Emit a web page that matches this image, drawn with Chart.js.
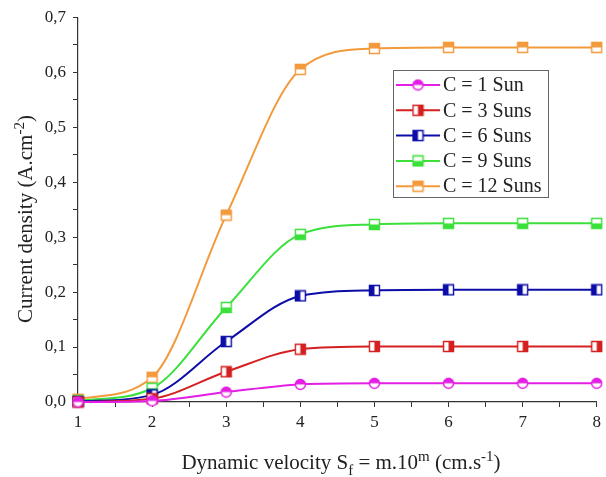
<!DOCTYPE html>
<html>
<head>
<meta charset="utf-8">
<script src="https://cdn.jsdelivr.net/npm/chart.js@4.4.0/dist/chart.umd.min.js"></script>
<style>
  html, body { margin: 0; padding: 0; background: #fff; }
  #wrap { width: 606px; height: 477px; }
</style>
</head>
<body>
<div id="wrap"><canvas id="chart"></canvas></div>
<script>
// values
const velocity = [1, 2, 3, 4, 5, 6, 7, 8];
const sun1  = [0.000, 0.002, 0.018, 0.032, 0.034, 0.034, 0.034, 0.034];
const sun3  = [0.000, 0.006, 0.055, 0.096, 0.101, 0.101, 0.101, 0.101];
const sun6  = [0.001, 0.013, 0.110, 0.193, 0.203, 0.204, 0.204, 0.204];
const sun9  = [0.002, 0.025, 0.172, 0.305, 0.323, 0.325, 0.325, 0.325];
const sun12 = [0.005, 0.045, 0.340, 0.605, 0.643, 0.645, 0.645, 0.645];
const seriesLabels = ['C = 1 Sun', 'C = 3 Suns', 'C = 6 Suns', 'C = 9 Suns', 'C = 12 Suns'];

const FONT = '"Liberation Serif", "Times New Roman", serif';

// half filled markers like in Origin
function makeMarker(shape, color, half) {
  const s = 13;
  const c = document.createElement('canvas');
  c.width = s; c.height = s;
  const g = c.getContext('2d');
  const path = () => {
    g.beginPath();
    if (shape === 'circle') g.arc(s / 2, s / 2, 5, 0, Math.PI * 2);
    else g.rect(1.5, 1.5, s - 3, s - 3);
  };
  path();
  g.fillStyle = '#fff';
  g.fill();
  g.save();
  path();
  g.clip();
  g.fillStyle = color;
  if (half === 'top') g.fillRect(0, 0, s, s / 2);
  if (half === 'bottom') g.fillRect(0, s / 2, s, s / 2);
  if (half === 'left') g.fillRect(0, 0, s / 2, s);
  if (half === 'right') g.fillRect(s / 2, 0, s / 2, s);
  g.restore();
  path();
  g.lineWidth = 1.4;
  g.strokeStyle = color;
  g.stroke();
  return c;
}

const colors = ['#e41ee4', '#d42020', '#0c0ca8', '#3be03b', '#f29a3c'];
const markers = [
  makeMarker('circle', colors[0], 'top'),
  makeMarker('square', colors[1], 'right'),
  makeMarker('square', colors[2], 'left'),
  makeMarker('square', colors[3], 'bottom'),
  makeMarker('square', colors[4], 'top'),
];

const allSeries = [sun1, sun3, sun6, sun9, sun12];
const datasets = allSeries.map((vals, i) => ({
  label: seriesLabels[i],
  data: velocity.map((v, k) => ({ x: v, y: vals[k] })),
  borderColor: colors[i],
  borderWidth: 2,
  pointStyle: markers[i],
  pointRadius: 6,
  cubicInterpolationMode: 'monotone',
  clip: false,
}));

// draws text with sub/superscripts, segments: [text, shiftY, size]
function drawRich(ctx, segs, x, y) {
  let total = 0;
  segs.forEach(([t, dy, size]) => {
    ctx.font = size + 'px ' + FONT;
    total += ctx.measureText(t).width;
  });
  let cx = x - total / 2;
  segs.forEach(([t, dy, size]) => {
    ctx.font = size + 'px ' + FONT;
    ctx.fillText(t, cx, y + dy);
    cx += ctx.measureText(t).width;
  });
}

const overlayPlugin = {
  id: 'overlay',
  afterDatasetsDraw(chart) {
    const ctx = chart.ctx;
    ctx.save();
    ctx.fillStyle = '#222';
    ctx.textBaseline = 'alphabetic';
    ctx.textAlign = 'left';

    // x title
    drawRich(ctx, [
      ['Dynamic velocity S', 0, 21], ['f', 6, 15], [' = m.10', 0, 21],
      ['m', -8, 15], [' (cm.s', 0, 21], ['-1', -8, 15], [')', 0, 21],
    ], 341, 469);

    // y title
    ctx.translate(32, 219);
    ctx.rotate(-Math.PI / 2);
    drawRich(ctx, [
      ['Current density (A.cm', 0, 21], ['-2', -8, 15], [')', 0, 21],
    ], 0, 0);
    ctx.restore();

    // legend box
    ctx.save();
    const bx = 393, by = 70, bw = 155, bh = 127;
    ctx.fillStyle = '#fff';
    ctx.fillRect(bx, by, bw, bh);
    ctx.strokeStyle = '#666';
    ctx.lineWidth = 1;
    ctx.strokeRect(bx + 0.5, by + 0.5, bw, bh);
    ctx.font = '20px ' + FONT;
    ctx.textBaseline = 'middle';
    chart.data.datasets.forEach((ds, i) => {
      const yy = by + 15 + i * 25.3;
      ctx.strokeStyle = ds.borderColor;
      ctx.lineWidth = 2;
      ctx.beginPath();
      ctx.moveTo(bx + 3, yy);
      ctx.lineTo(bx + 47, yy);
      ctx.stroke();
      ctx.drawImage(ds.pointStyle, bx + 25 - 6.5, yy - 6.5);
      ctx.fillStyle = '#222';
      ctx.fillText(ds.label, bx + 50, yy + 1);
    });
    ctx.restore();
  },
};

const isMajor = (v, step) => Math.abs(v / step - Math.round(v / step)) < 1e-6;

new Chart(document.getElementById('chart'), {
  type: 'line',
  data: { datasets },
  options: {
    responsive: true,
    maintainAspectRatio: false,
    animation: false,
    layout: { padding: { left: 0, right: 4, top: 16, bottom: 0 } },
    plugins: {
      legend: { display: false },
      tooltip: { enabled: false },
    },
    scales: {
      x: {
        type: 'linear',
        min: 1,
        max: 8,
        afterFit: (s) => { s.height = 75; },
        border: { display: true, color: '#333', width: 1.2 },
        grid: { drawOnChartArea: false, drawTicks: true, tickLength: 5, tickColor: '#333' },
        ticks: {
          stepSize: 0.5,
          autoSkip: false,
          maxRotation: 0,
          padding: 5,
          color: '#222',
          font: { family: FONT, size: 17 },
          callback: (v) => (isMajor(v, 1) ? String(Math.round(v)) : ''),
        },
      },
      y: {
        min: 0,
        max: 0.7,
        afterFit: (s) => { s.width = 78; },
        border: { display: true, color: '#333', width: 1.2 },
        grid: { drawOnChartArea: false, drawTicks: true, tickLength: 5, tickColor: '#333' },
        ticks: {
          stepSize: 0.05,
          autoSkip: false,
          padding: 7,
          color: '#222',
          font: { family: FONT, size: 17 },
          callback: (v) => (isMajor(v, 0.1) ? v.toFixed(1).replace('.', ',') : ''),
        },
      },
    },
  },
  plugins: [overlayPlugin],
});
</script>
</body>
</html>
